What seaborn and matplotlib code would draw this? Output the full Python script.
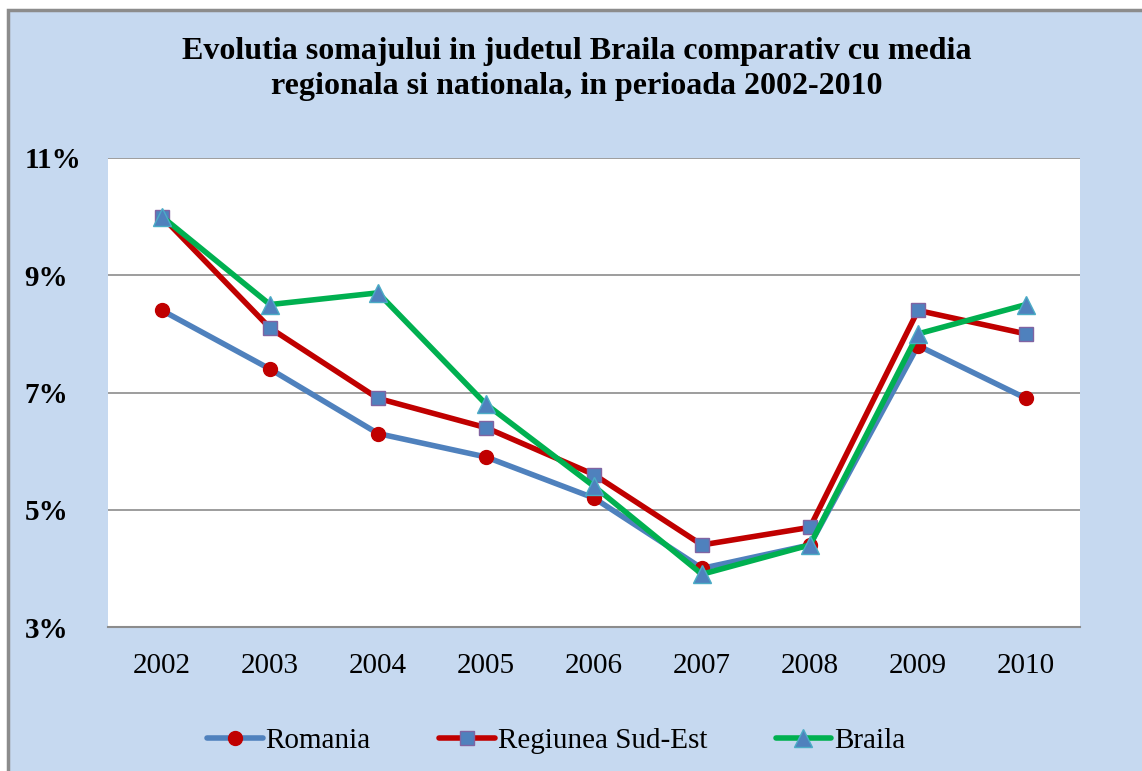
import pandas as pd
import numpy as np
import matplotlib.pyplot as plt
import matplotlib.patches as patches
import seaborn as sns

years = [2002, 2003, 2004, 2005, 2006, 2007, 2008, 2009, 2010]
romania = [8.4, 7.4, 6.3, 5.9, 5.2, 4.0, 4.4, 7.8, 6.9]
sud_est = [10.0, 8.1, 6.9, 6.4, 5.6, 4.4, 4.7, 8.4, 8.0]
braila = [10.0, 8.5, 8.7, 6.8, 5.4, 3.9, 4.4, 8.0, 8.5]
y_ticks = [3, 5, 7, 9, 11]
title = "Evolutia somajului in judetul Braila comparativ cu media\nregionala si nationala, in perioada 2002-2010"

sns.set_style("white")
plt.rcParams['font.family'] = ['Liberation Serif', 'DejaVu Serif']
plt.rcParams['text.color'] = 'black'
plt.rcParams['xtick.color'] = 'black'
plt.rcParams['ytick.color'] = 'black'

fig = plt.figure(figsize=(11.42, 7.71), dpi=100)
fig.patch.set_facecolor("white")
# blue chart panel with grey frame
bg = patches.Rectangle((8 / 1142, -0.05), 1.1, 1 - 10 / 771 + 0.05, transform=fig.transFigure,
                       facecolor="#C6D9F0", edgecolor="#8C8C8C", linewidth=2.5, zorder=-1)
fig.patches.append(bg)

ax = fig.add_axes([108 / 1142, 144 / 771, 972 / 1142, 469 / 771])
ax.set_facecolor("white")

series = [
    ("Romania", romania, "#4F81BD", "o", "#C00000", "#C00000", 10),
    ("Regiunea Sud-Est", sud_est, "#C00000", "s", "#4F81BD", "#8064A2", 10),
    ("Braila", braila, "#00B050", "^", "#4F81BD", "#4BACC6", 13),
]
for i, (name, vals, lc, mk, mfc, mec, ms) in enumerate(series):
    sns.lineplot(x=years, y=vals, ax=ax, color=lc, linewidth=4, marker=mk,
                 markerfacecolor=mfc, markeredgecolor=mec, markeredgewidth=1,
                 markersize=ms, label=name, zorder=3 + i)

ax.set_xlim(2001.5, 2010.5)
ax.set_ylim(3, 11)
ax.set_yticks(y_ticks)
ax.set_yticklabels([f"{t}%" for t in y_ticks], fontsize=21, fontweight="bold")
ax.set_xticks(years)
ax.set_xticklabels([str(y) for y in years], fontsize=21)
ax.tick_params(axis="x", pad=19, length=0, labelcolor="black")
ax.tick_params(axis="y", pad=60, length=0, labelcolor="black")
for lab in ax.get_yticklabels():
    lab.set_horizontalalignment("left")
ax.yaxis.grid(True, color="#8C8C8C", linewidth=1.2)
ax.set_axisbelow(True)
for s in ["left", "right"]:
    ax.spines[s].set_visible(False)
ax.spines["top"].set_visible(False)
ax.spines["bottom"].set_color("#8C8C8C")
ax.spines["bottom"].set_linewidth(1.5)

fig.text(0.505, 0.952, title, ha="center", va="top", fontsize=23, fontweight="bold",
         linespacing=1.27, color="black")

handles, labels = ax.get_legend_handles_labels()
ax.legend_.remove()
fig.legend(handles, labels, loc="center", bbox_to_anchor=(0.487, 0.039), ncol=3, frameon=False,
           fontsize=21, handlelength=1.9, handletextpad=0.1, columnspacing=2.35,
           labelcolor="black")

plt.savefig("out.png", dpi=100)
